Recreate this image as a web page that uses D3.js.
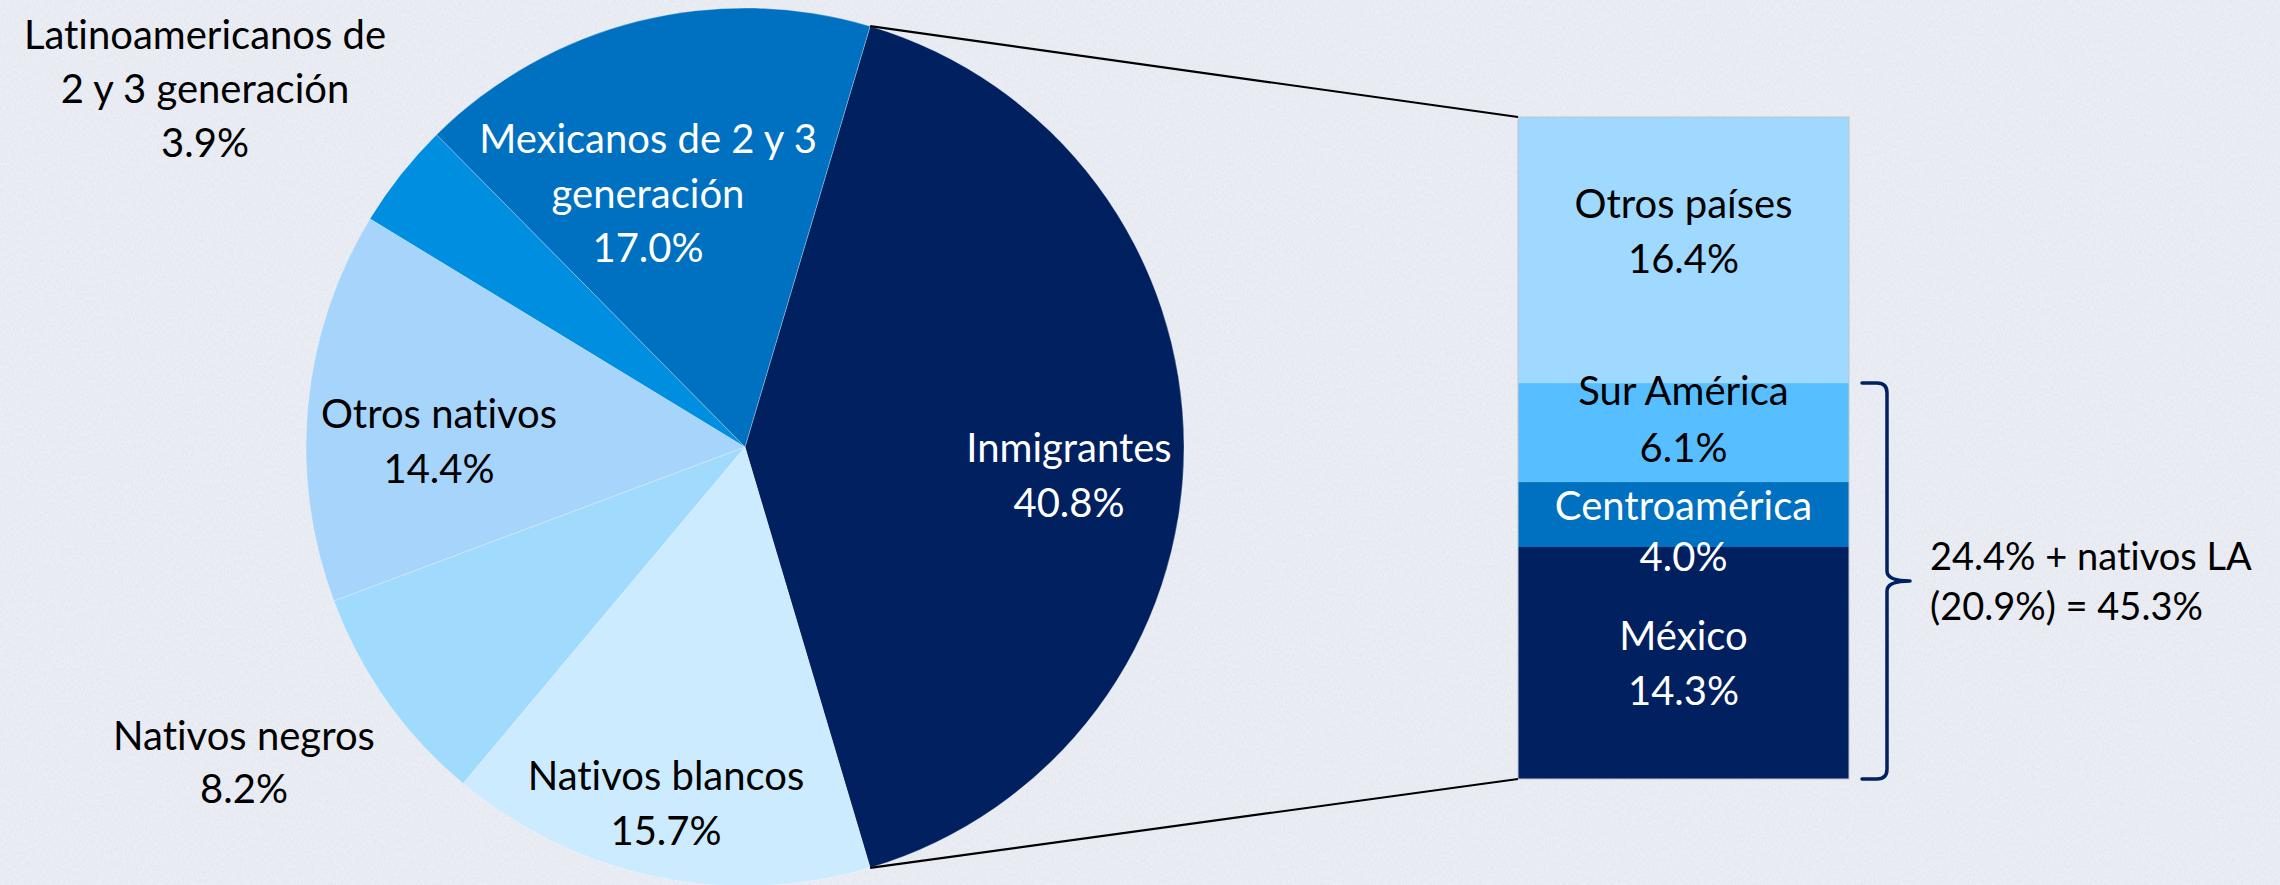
<!DOCTYPE html>
<html>
<head>
<meta charset="utf-8">
<script src="https://cdn.jsdelivr.net/npm/d3@7"></script>
<style>
  html, body { margin: 0; padding: 0; background: #E9ECF3; }
  svg { display: block; }
  text { font-family: Lato, "Open Sans", sans-serif; font-variant-ligatures: none; }
</style>
</head>
<body>
<svg id="chart" width="2280" height="885"></svg>
<script>
// ---------- data ----------
const pieCategories = ["Inmigrantes", "Nativos blancos", "Nativos negros", "Otros nativos",
                       "Latinoamericanos de 2 y 3 generación", "Mexicanos de 2 y 3 generación"];
const pieValues = [40.8, 15.7, 8.2, 14.4, 3.9, 17.0];
const pieLabelLines = [
  ["Inmigrantes", "40.8%"],
  ["Nativos blancos", "15.7%"],
  ["Nativos negros", "8.2%"],
  ["Otros nativos", "14.4%"],
  ["Latinoamericanos de", "2 y 3 generación", "3.9%"],
  ["Mexicanos de 2 y 3", "generación", "17.0%"]
];
const barCategories = ["Otros países", "Sur América", "Centroamérica", "México"];
const barValues = [16.4, 6.1, 4.0, 14.3];
const barLabelLines = [
  ["Otros países", "16.4%"],
  ["Sur América", "6.1%"],
  ["Centroamérica", "4.0%"],
  ["México", "14.3%"]
];
const bracketLabel = ["24.4% + nativos LA", "(20.9%) = 45.3%"];

// ---------- styles / layout ----------
const pieColors = ["#002060", "#CCEBFF", "#A0DAFC", "#A6D4FA", "#008FE0", "#0070C0"];
const pieTextColors = ["#fff", "#000", "#000", "#000", "#000", "#fff"];
const pieLabelPos = [[1069, 462], [666, 790], [244, 750], [439, 428], [205, 49], [648, 153]];
const pieLineGap = [55, 55, 53, 55, 54, 54.5];
const barColors = ["#9FD9FF", "#57BFFF", "#0070C0", "#002060"];
const barTextColors = ["#000", "#000", "#fff", "#fff"];
const barLabelY = [218, 405, 520, 650];
const barLineGap = [55, 57, 51, 55];

const svg = d3.select("#chart");
const cx = 745, cy = 447, R = 439;
const fontSize = 40;

// subtle background texture
const defs = svg.append("defs");
const f = defs.append("filter").attr("id", "tex").attr("x", 0).attr("y", 0)
  .attr("width", "100%").attr("height", "100%");
f.append("feTurbulence").attr("type", "fractalNoise")
  .attr("baseFrequency", "0.9 0.35").attr("numOctaves", 2).attr("seed", 3).attr("result", "n");
f.append("feColorMatrix").attr("in", "n").attr("type", "matrix")
  .attr("values", "0 0 0 0 0.55  0 0 0 0 0.57  0 0 0 0 0.62  0 0 0 -1.1 0.75");
svg.append("rect").attr("width", 2280).attr("height", 885).attr("fill", "#EBEEF5");
svg.append("rect").attr("width", 2280).attr("height", 885)
  .attr("filter", "url(#tex)").attr("opacity", 0.35);

// ---------- pie ----------
const total = d3.sum(pieValues);
const start = Math.PI / 2 - (pieValues[0] / total) * Math.PI;
const pie = d3.pie().sort(null).value(d => d)
  .startAngle(start).endAngle(start + 2 * Math.PI);
const arcs = pie(pieValues);
const arc = d3.arc().innerRadius(0).outerRadius(R);

const pg = svg.append("g").attr("transform", `translate(${cx},${cy})`);
pg.selectAll("path").data(arcs).join("path")
  .attr("d", arc)
  .attr("fill", (d, i) => pieColors[i])
  .attr("stroke", "rgba(255,255,255,0.35)")
  .attr("stroke-width", 0.8);

// labels
pieLabelLines.forEach((lines, i) => {
  const t = svg.append("text")
    .attr("text-anchor", "middle")
    .attr("font-size", fontSize)
    .attr("fill", pieTextColors[i]);
  lines.forEach((ln, j) => {
    t.append("tspan").attr("x", pieLabelPos[i][0])
      .attr("y", pieLabelPos[i][1] + j * pieLineGap[i]).text(ln);
  });
});

// ---------- bar ----------
const barX0 = 1518, barX1 = 1849, barTop = 117, barBottom = 779;
const barTotal = d3.sum(barValues);
const y = d3.scaleLinear().domain([0, barTotal]).range([barTop, barBottom]);
const cum = [0, ...d3.cumsum(barValues)];
const bg = svg.append("g");
bg.selectAll("rect").data(barValues).join("rect")
  .attr("x", barX0)
  .attr("width", barX1 - barX0)
  .attr("y", (d, i) => y(cum[i]))
  .attr("height", d => y(d) - y(0))
  .attr("fill", (d, i) => barColors[i]);
bg.append("rect")
  .attr("x", barX0).attr("y", y(0))
  .attr("width", barX1 - barX0).attr("height", y(barTotal) - y(0))
  .attr("fill", "none").attr("stroke", "#BFC4CC").attr("stroke-width", 1);

barLabelLines.forEach((lines, i) => {
  const t = svg.append("text")
    .attr("text-anchor", "middle")
    .attr("font-size", fontSize)
    .attr("fill", barTextColors[i]);
  lines.forEach((ln, j) => {
    t.append("tspan").attr("x", (barX0 + barX1) / 2)
      .attr("y", barLabelY[i] + j * barLineGap[i]).text(ln);
  });
});

// ---------- connector lines ----------
const a0 = arcs[0];
const pt = ang => [cx + R * Math.sin(ang), cy - R * Math.cos(ang)];
const pTop = pt(a0.startAngle), pBot = pt(a0.endAngle);
svg.append("line").attr("x1", pTop[0]).attr("y1", pTop[1])
  .attr("x2", barX0).attr("y2", y(0))
  .attr("stroke", "#000").attr("stroke-width", 2.2);
svg.append("line").attr("x1", pBot[0]).attr("y1", pBot[1])
  .attr("x2", barX0).attr("y2", y(barTotal))
  .attr("stroke", "#000").attr("stroke-width", 2.2);

// ---------- bracket ----------
const bTop = y(cum[1]), bBot = y(barTotal), bMid = (bTop + bBot) / 2;
const bx0 = 1862, bx1 = 1887, bxTip = 1910, rr = 10;
const bp = d3.path();
bp.moveTo(bx0, bTop);
bp.lineTo(bx1 - rr, bTop);
bp.quadraticCurveTo(bx1, bTop, bx1, bTop + rr);
bp.lineTo(bx1, bMid - rr);
bp.quadraticCurveTo(bx1, bMid, bxTip, bMid);
bp.moveTo(bxTip, bMid);
bp.quadraticCurveTo(bx1, bMid, bx1, bMid + rr);
bp.lineTo(bx1, bBot - rr);
bp.quadraticCurveTo(bx1, bBot, bx1 - rr, bBot);
bp.lineTo(bx0, bBot);
svg.append("path").attr("d", bp.toString())
  .attr("fill", "none").attr("stroke", "#002060").attr("stroke-width", 3.5)
  .attr("stroke-linecap", "round").attr("stroke-linejoin", "round");

const bt = svg.append("text").attr("font-size", 38).attr("fill", "#000");
bracketLabel.forEach((ln, j) => {
  bt.append("tspan").attr("x", 1930).attr("y", 570 + j * 50).text(ln);
});
</script>
</body>
</html>
